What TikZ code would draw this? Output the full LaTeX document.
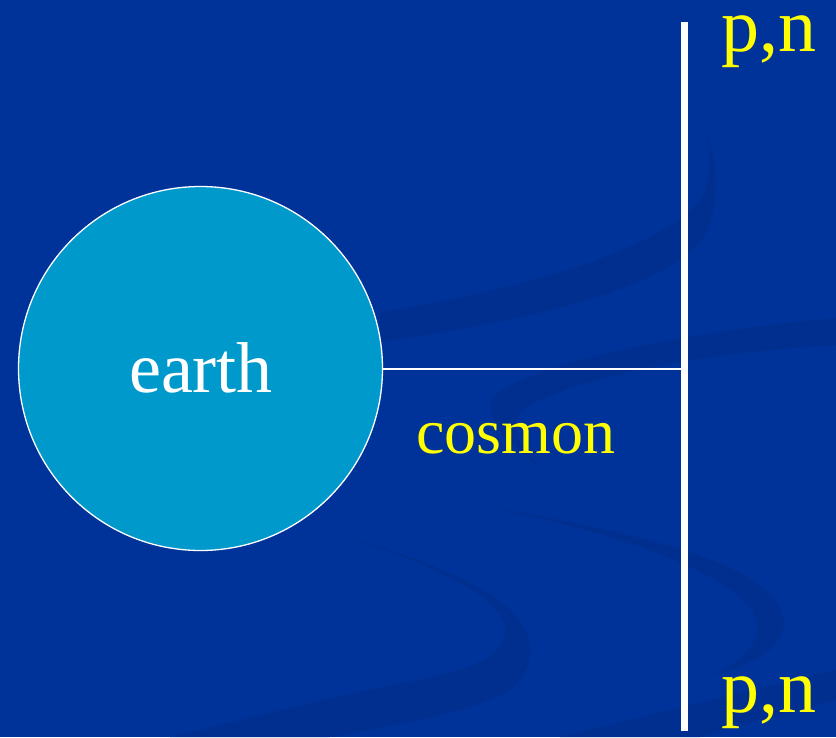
\documentclass[tikz,border=0pt]{standalone}
\usepackage{fontspec}
\setmainfont{Liberation Serif}
\definecolor{bgblue}{RGB}{0,51,153}
\definecolor{swirl}{RGB}{0,47,143}
\definecolor{earthblue}{RGB}{0,153,204}
\definecolor{txtyellow}{RGB}{255,255,0}
\tikzset{
  swirlshape/.style={fill=swirl, draw=none},
  planet/.style={circle, fill=earthblue, draw=white, line width=1.3pt, minimum size=364pt, inner sep=0pt},
  label yellow/.style={text=txtyellow, inner sep=0pt},
  wall/.style={draw=white, line width=7pt},
  link/.style={draw=white, line width=2pt}
}
\begin{document}
\begin{tikzpicture}[x=1pt,y=-1pt]
\fill[bgblue] (0,0) rectangle (836,737);
\useasboundingbox (0,0) rectangle (836,737);
% background swirls
\path[swirlshape] (380,312) .. controls (520,290) and (660,250) .. (700,200) .. controls (715,175) and (712,140) .. (700,120) .. controls (718,150) and (722,200) .. (705,235) .. controls (670,290) and (520,322) .. (380,342) -- cycle;
\path[swirlshape] (836,318) .. controls (700,330) and (540,360) .. (495,395) .. controls (480,410) and (500,440) .. (545,470) .. controls (515,445) and (505,420) .. (530,405) .. controls (600,370) and (720,352) .. (836,345) -- cycle;
\path[swirlshape] (300,524) .. controls (400,550) and (480,585) .. (500,615) .. controls (520,650) and (480,670) .. (400,683) .. controls (320,700) and (240,720) .. (170,737) -- (330,737) .. controls (400,725) and (480,710) .. (510,690) .. controls (540,665) and (535,630) .. (505,605) .. controls (460,570) and (380,545) .. (300,524) -- cycle;
\path[swirlshape] (480,505) .. controls (620,530) and (740,555) .. (775,600) .. controls (800,635) and (770,660) .. (712,676) .. controls (755,655) and (770,628) .. (745,602) .. controls (700,560) and (600,530) .. (480,505) -- cycle;
\path[swirlshape] (560,737) .. controls (650,715) and (750,690) .. (836,670) -- (836,700) .. controls (780,715) and (740,725) .. (700,737) -- cycle;
% diagram
\node[planet] (earth) at (200.5,368.5) {};
\node[text=white, anchor=base, inner sep=0pt, font=\fontsize{72}{72}\selectfont] (earthlbl) at (201,392) {earth};
\coordinate (vtop) at (684,22);
\coordinate (vbot) at (684,731);
\coordinate (junction) at (681,368.5);
\draw[wall] (vtop) -- (vbot);
\draw[link] (earth.east) -- (junction);
\node[label yellow, anchor=base, font=\fontsize{64}{64}\selectfont] (cosmon) at (516,453) {cosmon};
\node[label yellow, anchor=base west, font=\fontsize{76}{76}\selectfont] (pntop) at (721,51) {p,n};
\node[label yellow, anchor=base west, font=\fontsize{76}{76}\selectfont] (pnbot) at (721,712) {p,n};
\end{tikzpicture}
\end{document}
